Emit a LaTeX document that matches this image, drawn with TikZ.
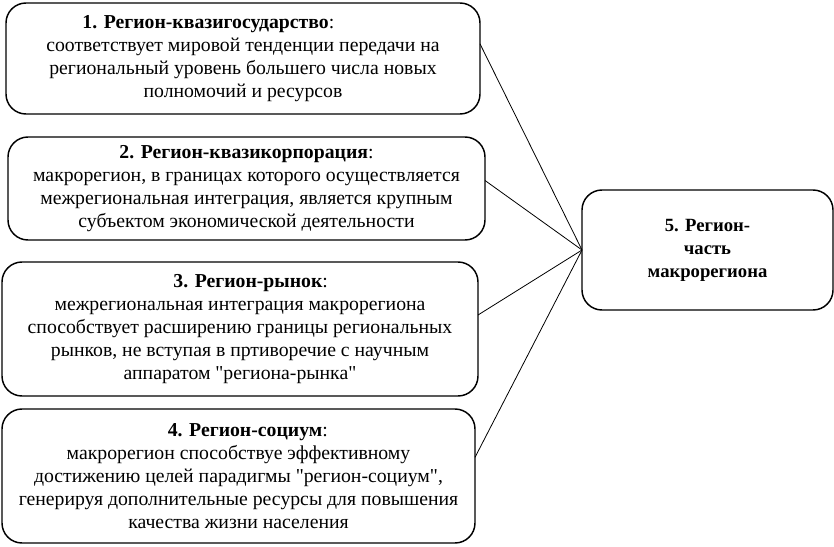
\documentclass[tikz,border=0pt]{standalone}
\usepackage{fontspec}
\setmainfont{Liberation Serif}
\usetikzlibrary{positioning}

\tikzset{
  regbox/.style={draw, line width=1.1pt, rounded corners=15pt, align=center,
    inner sep=0pt, outer sep=0pt, font=\fontsize{14.8}{17.25}\selectfont},
  link/.style={line width=0.6pt}
}

\begin{document}
\begin{tikzpicture}[x=0.75pt,y=-0.75pt]
    \useasboundingbox (0,0) rectangle (834,546);
    % left column
    \node[regbox, minimum width=355.5pt, minimum height=83.25pt] (kvazigos) at (243,58.5)
      {\textbf{1. Регион-квазигосударство}:\hspace*{52pt}\\
       соответствует мировой тенденции передачи на\\
       региональный уровень большего числа новых\\
       полномочий и ресурсов};
    \node[regbox, minimum width=357.75pt, minimum height=77.25pt] (kvazikorp) at (246.5,188.5)
      {\textbf{2. Регион-квазикорпорация}:\\
       макрорегион, в границах которого осуществляется\\
       межрегиональная интеграция, является крупным\\
       субъектом экономической деятельности};
    \node[regbox, minimum width=357pt, minimum height=100.5pt] (rynok) at (240,329)
      {\hspace*{16pt}\textbf{3. Регион-рынок}:\\
       межрегиональная интеграция макрорегиона\\
       способствует расширению границы региональных\\
       рынков, не вступая в пртиворечие с научным\\
       аппаратом \textquotedbl региона-рынка\textquotedbl};
    \node[regbox, minimum width=354.75pt, minimum height=100.5pt] (socium) at (238.5,476)
      {\hspace*{14pt}\textbf{4. Регион-социум}:\\
       макрорегион способствуе эффективному\\
       достижению целей парадигмы \textquotedbl регион-социум\textquotedbl,\\
       генерируя дополнительные ресурсы для повышения\\
       качества жизни населения};
    % right box
    \node[regbox, font=\fontsize{14}{17.25}\selectfont, minimum width=188.25pt, minimum height=90pt]
      (chast) at (707.5,250)
      {\raisebox{-5pt}{\begin{tabular}{@{}c@{}}\textbf{5. Регион-}\\ \textbf{часть}\\ \textbf{макрорегиона}\end{tabular}}};
    % links
    \draw[link] ([yshift=11pt]kvazigos.east) -- (chast.west);
    \draw[link] ([yshift=6pt]kvazikorp.east) -- (chast.west);
    \draw[link] ([yshift=10.5pt]rynok.east) -- (chast.west);
    \draw[link] ([yshift=14pt]socium.east) -- (chast.west);
\end{tikzpicture}
\end{document}
